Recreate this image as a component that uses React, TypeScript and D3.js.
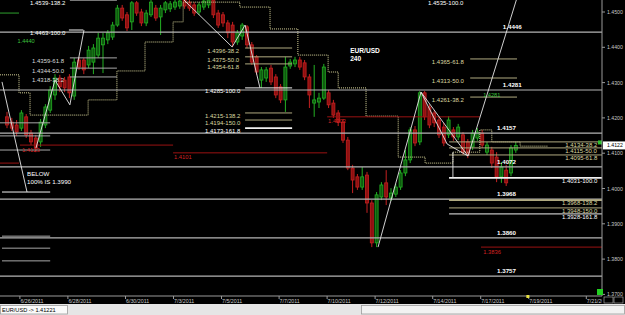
import React from "react";
import * as d3 from "d3";

// ---- EUR/USD 240 candles (open, high, low, close) ----
const opens = [
  1.4203, 1.4188, 1.418, 1.4171, 1.4203, 1.4157, 1.4143, 1.4132, 1.418, 1.4222,
  1.4265, 1.4313, 1.4307, 1.4316, 1.4262, 1.4364, 1.4364, 1.435, 1.4358, 1.4378,
  1.4407, 1.4421, 1.4429, 1.4463, 1.4511, 1.4492, 1.4472, 1.4526, 1.45, 1.4469,
  1.4492, 1.4511, 1.4486, 1.4506, 1.4509, 1.4514, 1.4517, 1.4534, 1.4528, 1.452,
  1.45, 1.4514, 1.452, 1.4534, 1.4497, 1.4492, 1.4469, 1.4463, 1.4415, 1.4432,
  1.4458, 1.4407, 1.4373, 1.4307, 1.4313, 1.4341, 1.4316, 1.4288, 1.4251, 1.4347,
  1.4353, 1.4364, 1.4356, 1.4316, 1.4242, 1.4245, 1.4256, 1.4271, 1.4242, 1.4214,
  1.4188, 1.4137, 1.4058, 1.4033, 1.4004, 1.4038, 1.3959, 1.3846, 1.3976, 1.4016,
  1.3973, 1.3984, 1.4004, 1.4044, 1.4081, 1.4166, 1.4132, 1.4271, 1.4231, 1.4214,
  1.4194, 1.4174, 1.4152, 1.4166, 1.4146, 1.4152, 1.4132, 1.4118, 1.4143, 1.4157,
  1.4103, 1.4109, 1.4089, 1.4033, 1.4052, 1.4044, 1.4109,
];
const highs = [
  1.4217, 1.42, 1.4194, 1.4222, 1.4211, 1.4166, 1.4152, 1.4197, 1.4239, 1.429,
  1.4324, 1.4322, 1.4316, 1.4324, 1.437, 1.4373, 1.437, 1.4404, 1.4409, 1.4441,
  1.4441, 1.4449, 1.4472, 1.452, 1.452, 1.45, 1.4531, 1.4531, 1.4509, 1.4506,
  1.4534, 1.452, 1.452, 1.4531, 1.4531, 1.4534, 1.4534, 1.4537, 1.4534, 1.4528,
  1.4528, 1.4534, 1.454, 1.4537, 1.4506, 1.45, 1.4477, 1.4472, 1.4449, 1.4469,
  1.4463, 1.4415, 1.4378, 1.4344, 1.4344, 1.435, 1.4324, 1.4296, 1.4373, 1.4367,
  1.4373, 1.4373, 1.4364, 1.4324, 1.435, 1.4271, 1.4353, 1.4279, 1.4251, 1.4222,
  1.4197, 1.4146, 1.4067, 1.4041, 1.4061, 1.4047, 1.3967, 1.399, 1.4018, 1.4052,
  1.4001, 1.4013, 1.4052, 1.4109, 1.4174, 1.4177, 1.4276, 1.4276, 1.4239, 1.4222,
  1.4203, 1.4186, 1.4205, 1.4174, 1.4183, 1.416, 1.414, 1.4166, 1.4171, 1.4166,
  1.4132, 1.4118, 1.4103, 1.4075, 1.4067, 1.4123, 1.4132,
];
const lows = [
  1.4171, 1.4163, 1.4149, 1.4163, 1.4143, 1.4123, 1.4103, 1.4118, 1.4171, 1.4214,
  1.4251, 1.4273, 1.4273, 1.4256, 1.4251, 1.4336, 1.4324, 1.4341, 1.4324, 1.437,
  1.4327, 1.4409, 1.4421, 1.4458, 1.4475, 1.4446, 1.4449, 1.4489, 1.446, 1.446,
  1.4486, 1.4475, 1.4435, 1.4497, 1.45, 1.4506, 1.4509, 1.4509, 1.4503, 1.4489,
  1.4492, 1.4506, 1.4511, 1.4483, 1.4455, 1.4458, 1.4426, 1.4401, 1.4407, 1.4421,
  1.4398, 1.435, 1.4322, 1.4285, 1.4302, 1.4293, 1.4256, 1.4242, 1.4217, 1.4339,
  1.4344, 1.4336, 1.4307, 1.4228, 1.4203, 1.4228, 1.4251, 1.4228, 1.42, 1.4177,
  1.4129, 1.4052, 1.3987, 1.3996, 1.3996, 1.3931, 1.3834, 1.3834, 1.3967, 1.3953,
  1.3965, 1.3976, 1.3996, 1.4035, 1.4072, 1.412, 1.4123, 1.4194, 1.4171, 1.4174,
  1.4143, 1.412, 1.4143, 1.4135, 1.4137, 1.4095, 1.4086, 1.4109, 1.4135, 1.4115,
  1.4095, 1.4058, 1.4018, 1.4016, 1.4007, 1.4035, 1.4101,
];
const closes = [
  1.418, 1.4171, 1.416, 1.4214, 1.4152, 1.4132, 1.4115, 1.4188, 1.4231, 1.4279,
  1.4313, 1.4288, 1.4285, 1.4271, 1.4358, 1.4344, 1.4336, 1.4392, 1.4398, 1.4426,
  1.4426, 1.4441, 1.4463, 1.4511, 1.4483, 1.4455, 1.4526, 1.4497, 1.4469, 1.4497,
  1.4528, 1.4483, 1.4511, 1.4526, 1.4523, 1.4528, 1.4531, 1.4517, 1.4511, 1.4497,
  1.452, 1.4531, 1.4534, 1.4492, 1.4463, 1.4469, 1.4441, 1.4415, 1.4441, 1.4463,
  1.4407, 1.4358, 1.433, 1.4336, 1.4336, 1.4302, 1.4265, 1.4251, 1.4344, 1.4358,
  1.4364, 1.4344, 1.4316, 1.4265, 1.4251, 1.4256, 1.4344, 1.4237, 1.4208, 1.4188,
  1.4137, 1.4058, 1.4024, 1.4004, 1.4033, 1.3959, 1.3846, 1.3982, 1.401, 1.3976,
  1.3987, 1.4004, 1.4044, 1.4081, 1.4166, 1.4129, 1.4271, 1.4203, 1.418, 1.4186,
  1.4152, 1.4129, 1.4194, 1.4146, 1.4174, 1.4103, 1.4095, 1.4157, 1.416, 1.4123,
  1.4123, 1.4072, 1.4033, 1.4061, 1.4016, 1.4115, 1.4122,
];

// ---- axes ----
const priceTicks = [1.45, 1.44, 1.43, 1.42, 1.41, 1.4, 1.39, 1.38, 1.37];
const dateTickBars = [3, 13, 25, 35, 45, 57, 67, 77, 89, 99, 109, 121];
const dateTickLabels = [
  "6/26/2011", "6/28/2011", "6/30/2011", "7/3/2011", "7/5/2011", "7/7/2011",
  "7/10/2011", "7/12/2011", "7/14/2011", "7/17/2011", "7/19/2011", "7/21/2011",
];
const symbolName = "EUR/USD";
const timeframe = "240";
const lastQuote = "1.41221";

// ---- full-width support / resistance levels ----
const levelPrices = [1.4443, 1.4279, 1.4157, 1.4061, 1.397, 1.386, 1.3752];
const levelLabels = ["1.4446", "1.4281", "1.4157", "1.4072", "1.3968", "1.3860", "1.3757"];
const levelLabelBar = [103.3, 103.3, 102.1, 102.1, 102.1, 102.1, 102.1];

// ---- fibonacci levels: price, from bar, to bar, label, label bar, kind ----
const fibPrices = [
  1.4534, 1.4449, 1.437, 1.4341, 1.4316,
  1.4398, 1.4373, 1.4353, 1.4285, 1.4214, 1.4194, 1.4171,
  1.4534, 1.4367, 1.4313, 1.4259,
  1.4132, 1.4115, 1.4095, 1.403, 1.3967, 1.3945, 1.3928,
];
const fibFrom = [
  13.1, 12.9, 13.1, 13.1, 13.1,
  49.6, 49.6, 49.6, 49.6, 49.6, 49.6, 49.6,
  0, 96.5, 96.5, 96.5,
  92.1, 92.1, 92.1, 92.1, 92.1, 92.1, 92.1,
];
const fibTo = [
  22.9, 15.9, 22.9, 22.9, 22.9,
  59.4, 59.4, 59.4, 59.4, 59.4, 59.4, 59.4,
  0, 106.25, 106.25, 106.25,
  124, 124, 124, 124, 124, 124, 124,
];
const fibLabels = [
  "1.4539-138.2", "1.4463-100.0", "1.4359-61.8", "1.4344-50.0", "1.4318-38.2",
  "1.4396-38.2", "1.4375-50.0", "1.4354-61.8", "1.4285-100.0", "1.4215-138.2", "1.4194-150.0", "1.4173-161.8",
  "1.4535-100.0", "1.4365-61.8", "1.4313-50.0", "1.4261-38.2",
  "1.4134-38.2", "1.4115-50.0", "1.4095-61.8", "1.4031-100.0", "1.3968-138.2", "1.3948-150.0", "1.3928-161.8",
];
const fibLabelBar = [
  4.8, 4.8, 5.2, 5.2, 5.2,
  41.7, 41.7, 41.7, 41.25, 41.25, 41.25, 41.25,
  87.7, 88.5, 88.5, 88.5,
  116.3, 116.3, 116.3, 115.6, 115.6, 115.6, 115.6,
];
const fibKinds = [
  "w", "w", "g", "g", "g",
  "k", "k", "k", "w", "k", "k", "W",
  "w", "k", "k", "k",
  "k", "k", "k", "W", "K", "k", "w",
];

// ---- short grey levels on the left ----
const shortPrices = [1.4186, 1.4149, 1.4109, 1.399, 1.3865, 1.3831, 1.3795];
const shortFrom = [-1.46, -1.46, -1.46, -1.04, -1.04, -1.04, -1.04];
const shortTo = [9, 9, 9, 9, 9, 9, 9];

// ---- red horizontal lines ----
const redPrices = [1.4123, 1.4072, 1.4101, 1.4203, 1.3834];
const redFrom = [2.7, -1.46, 34.6, 66.7, 98.75];
const redTo = [34.6, 2.5, 66.7, 98.5, 124];
const redLabels = ["1.4123", "", "1.4101", "1.4203", "1.3836"];
const redLabelBar = [3.1, 0, 34.8, 66.9, 99.2];

// ---- green marks ----
const greenLabels = ["1.4440", "1.4281"];
const greenLabelBar = [2.2, 99.2];
const greenLabelPrice = [1.4418, 1.4265];

// ---- zigzag lines (bar, price) ----
const zigzagBars = [
  [-1.04, 4.17],
  [6.04, 10, 13.1, 16.04],
  [36.04, 46.9, 49.6, 52.7],
  [77.3, 86.25, 91.7, 96.04, 106.25],
  [86.25, 96.04],
  [92.9, 92.9],
];
const zigzagPrices = [
  [1.4302, 1.399],
  [1.4115, 1.4307, 1.4237, 1.4449],
  [1.4545, 1.4401, 1.4463, 1.4285],
  [1.3834, 1.4273, 1.4126, 1.4092, 1.454],
  [1.4273, 1.4092],
  [1.4103, 1.403],
];

// ---- dotted trailing step line ----
const stepBars = [-1.46, 2.5, 4.8, 16.9, 22.9, 28.75, 34.6, 36.7, 48.5, 54.8, 60.6, 66.9, 69, 74.8, 81.5, 87.1, 92.9, 98.5, 101, 106.9, 112.7];
const stepLevels = [1.4322, 1.4271, 1.4208, 1.4251, 1.4333, 1.4415, 1.4472, 1.4528, 1.4514, 1.4452, 1.4378, 1.433, 1.4285, 1.4205, 1.4089, 1.4072, 1.4103, 1.4166, 1.4132, 1.412];

const belowText = ["BELOW", "100% IS 1.3990"];

export default function App() {
  const W = 625;
  const H = 315;
  const plotR = 602;
  const plotB = 296;
  const font = "'Liberation Sans', Arial, sans-serif";

  const x = d3.scaleLinear().domain([0, 106]).range([7, 515.8]);
  const y = d3.scaleLinear().domain([1.37, 1.45]).range([294.4, 12]);

  const bars = d3.range(opens.length);
  const bodyW = 3;

  const line = d3
    .line<[number, number]>()
    .x((d) => x(d[0]))
    .y((d) => y(d[1]));
  const stepLine = d3
    .line<[number, number]>()
    .x((d) => x(d[0]))
    .y((d) => y(d[1]))
    .curve(d3.curveStepAfter);
  const stepPts: [number, number][] = stepBars.map((b, i) => [
    b,
    stepLevels[Math.min(i, stepLevels.length - 1)],
  ]);

  const khakiText = "#dcd8a0";
  const khakiLine = "#b0aa80";
  const textStyle = (k: string) =>
    k === "k" || k === "K" ? khakiText : k === "g" ? "#d8d8d8" : "#ffffff";
  const lineStyle = (k: string) =>
    k === "k" || k === "K" ? khakiLine : k === "g" ? "#a8a8a8" : "#f0f0f0";
  const lineWidth = (k: string) => (k === "W" || k === "K" ? 1.8 : 1);

  const lastClose = closes[closes.length - 1];

  return (
    <svg
      width={W}
      height={H}
      style={{ position: "absolute", left: 0, top: 0, display: "block" }}
      fontFamily={font}
    >
      <defs>
        <clipPath id="plotClip">
          <rect x={0} y={0} width={plotR} height={plotB} />
        </clipPath>
        <clipPath id="dateClip">
          <rect x={0} y={plotB} width={plotR} height={10} />
        </clipPath>
      </defs>
      <rect x={0} y={0} width={W} height={H} fill="#000" />

      <g clipPath="url(#plotClip)">
        {/* candles */}
        {bars.map((i) => {
          const o = opens[i];
          const c = closes[i];
          const up = c >= o;
          const cx = x(i);
          const top = y(Math.max(o, c));
          const bot = y(Math.min(o, c));
          const stroke = up ? "#23b023" : "#c42020";
          const fill = up ? "#0f5a0f" : "#8e1010";
          return (
            <g key={"c" + i}>
              <line x1={cx} x2={cx} y1={y(highs[i])} y2={y(lows[i])} stroke={stroke} strokeWidth={1} />
              <rect
                x={cx - bodyW / 2}
                y={top}
                width={bodyW}
                height={Math.max(1, bot - top)}
                fill={fill}
                stroke={stroke}
                strokeWidth={0.8}
              />
            </g>
          );
        })}

        {/* dotted step line */}
        <path d={stepLine(stepPts) || ""} fill="none" stroke="#d8d49a" strokeWidth={1} strokeDasharray="1,1" />

        {/* full-width levels */}
        {levelPrices.map((p, i) => (
          <line key={"lv" + i} x1={0} x2={plotR} y1={y(p)} y2={y(p)} stroke="#b4b4b4" strokeWidth={1.2} />
        ))}

        {/* short grey levels */}
        {shortPrices.map((p, i) => (
          <line
            key={"sh" + i}
            x1={x(shortFrom[i])}
            x2={x(shortTo[i])}
            y1={y(p)}
            y2={y(p)}
            stroke={i === 3 ? "#f0f0f0" : "#a8a8a8"}
            strokeWidth={1}
          />
        ))}

        {/* red lines */}
        {redPrices.map((p, i) => (
          <line key={"rl" + i} x1={x(redFrom[i])} x2={x(redTo[i])} y1={y(p)} y2={y(p)} stroke="#9a1212" strokeWidth={1} />
        ))}

        {/* green short line */}
        <line x1={x(-1.46)} x2={x(2.5)} y1={y(1.4497)} y2={y(1.4497)} stroke="#2ea02e" strokeWidth={1} />

        {/* fibo lines */}
        {fibPrices.map((p, i) =>
          fibTo[i] > fibFrom[i] ? (
            <line
              key={"fl" + i}
              x1={x(fibFrom[i])}
              x2={x(fibTo[i])}
              y1={y(p)}
              y2={y(p)}
              stroke={lineStyle(fibKinds[i])}
              strokeWidth={lineWidth(fibKinds[i])}
            />
          ) : null
        )}

        {/* zigzags */}
        {zigzagBars.map((bs, k) => (
          <path
            key={"zz" + k}
            d={line(bs.map((b, j) => [b, zigzagPrices[k][j]] as [number, number])) || ""}
            fill="none"
            stroke="#e6e6e6"
            strokeWidth={0.9}
          />
        ))}

        {/* fibo labels */}
        {fibPrices.map((p, i) => (
          <text
            key={"ft" + i}
            x={x(fibLabelBar[i])}
            y={y(p) + 3}
            dominantBaseline="central"
            fontSize={6}
            fill={textStyle(fibKinds[i])}
          >
            {fibLabels[i]}
          </text>
        ))}

        {/* level labels */}
        {levelPrices.map((p, i) => (
          <text
            key={"lt" + i}
            x={x(levelLabelBar[i])}
            y={y(p) - 5.5}
            dominantBaseline="central"
            fontSize={6.2}
            fontWeight="bold"
            fill="#ffffff"
          >
            {levelLabels[i]}
          </text>
        ))}

        {/* red labels */}
        {redPrices.map((p, i) =>
          redLabels[i] ? (
            <text
              key={"rt" + i}
              x={x(redLabelBar[i])}
              y={y(p) + 4.5}
              dominantBaseline="central"
              fontSize={5.8}
              fill="#d42222"
            >
              {redLabels[i]}
            </text>
          ) : null
        )}

        {/* green labels */}
        {greenLabels.map((t, i) => (
          <text
            key={"gt" + i}
            x={x(greenLabelBar[i])}
            y={y(greenLabelPrice[i])}
            dominantBaseline="central"
            fontSize={5.6}
            fill="#3cc03c"
          >
            {t}
          </text>
        ))}

        {/* symbol */}
        <text x={x(71.5)} y={y(1.4392)} dominantBaseline="central" fontSize={6.6} fontWeight="bold" fill="#fff">
          {symbolName}
        </text>
        <text x={x(71.5)} y={y(1.4367)} dominantBaseline="central" fontSize={6.6} fontWeight="bold" fill="#fff">
          {timeframe}
        </text>

        {/* BELOW note */}
        <text x={x(4.17)} y={y(1.4042)} dominantBaseline="central" fontSize={6.2} fill="#fff">
          {belowText[0]}
        </text>
        <text x={x(4.17)} y={y(1.4019)} dominantBaseline="central" fontSize={6.2} fill="#fff">
          {belowText[1]}
        </text>

        {/* green marker near price */}
        <rect x={plotR - 4} y={y(lastClose) - 5} width={4} height={4} fill="#2fc02f" />
      </g>

      {/* axes */}
      <line x1={plotR} x2={plotR} y1={0} y2={plotB} stroke="#9a9a9a" strokeWidth={1} />
      <line x1={0} x2={plotR} y1={plotB} y2={plotB} stroke="#9a9a9a" strokeWidth={1} />
      {priceTicks.map((p, i) => (
        <g key={"pt" + i}>
          <line x1={plotR} x2={plotR + 3} y1={y(p)} y2={y(p)} stroke="#9a9a9a" />
          <text x={plotR + 5} y={y(p)} dominantBaseline="central" fontSize={5.2} fill="#c8c8c8">
            {p.toFixed(4)}
          </text>
        </g>
      ))}
      <rect x={plotR + 1} y={y(lastClose) - 4} width={W - plotR - 1} height={8} fill="#fff" />
      <text x={plotR + 5} y={y(lastClose)} dominantBaseline="central" fontSize={5.2} fill="#000">
        {lastClose.toFixed(4)}
      </text>

      <g clipPath="url(#dateClip)">
        {dateTickBars.map((b, i) => (
          <g key={"dt" + i}>
            <line x1={x(b) - 1.5} x2={x(b) - 1.5} y1={plotB} y2={plotB + 3} stroke="#9a9a9a" />
            <text x={x(b) - 1} y={plotB + 4.5} dominantBaseline="central" fontSize={5.3} fill="#c8c8c8">
              {dateTickLabels[i]}
            </text>
          </g>
        ))}
      </g>
      <rect x={x(108.2)} y={plotB - 1} width={3} height={3} fill="#e8e040" />
      <rect x={plotR - 5} y={plotB - 7} width={6} height={6} fill="#22d022" />
      <rect x={plotR + 2} y={plotB + 1} width={9} height={6} fill="none" stroke="#bbb" strokeWidth={0.6} />
      <rect x={plotR + 12} y={plotB + 1} width={9} height={6} fill="none" stroke="#bbb" strokeWidth={0.6} />

      {/* status bar */}
      <rect x={0} y={304} width={W} height={H - 304} fill="#e6e6e6" />
      <rect x={0.5} y={305.5} width={67} height={8.5} fill="#fafafa" stroke="#9c9c9c" strokeWidth={0.8} />
      <text x={2} y={310} dominantBaseline="central" fontSize={5.6} fill="#000">
        {symbolName + " -> " + lastQuote}
      </text>
      <rect x={361.5} y={305.5} width={263} height={8.5} fill="#f2f2f2" stroke="#9c9c9c" strokeWidth={0.8} />
    </svg>
  );
}
